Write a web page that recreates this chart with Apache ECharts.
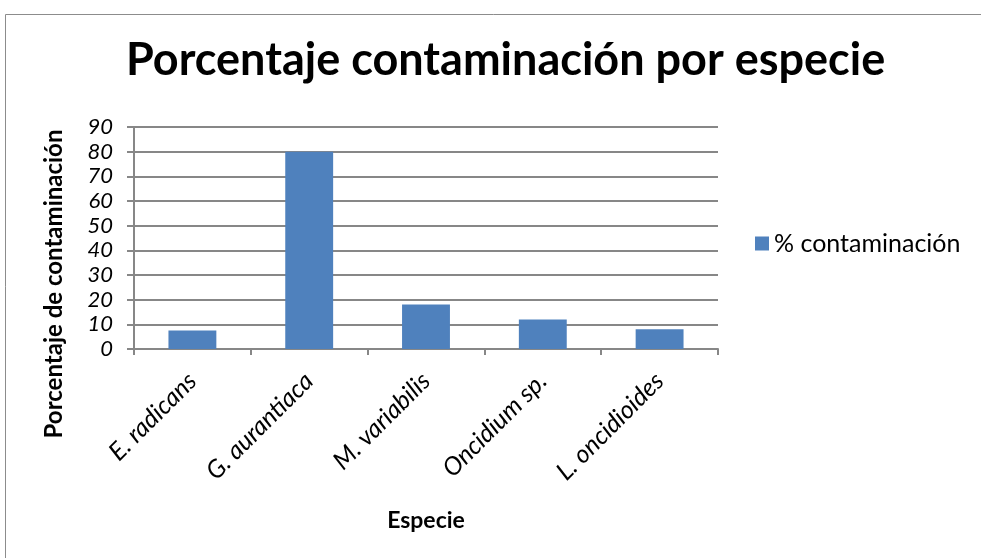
<!DOCTYPE html>
<html>
<head>
<meta charset="utf-8">
<script src="https://cdn.jsdelivr.net/npm/echarts@6/dist/echarts.min.js"></script>
<style>
  html, body { margin: 0; padding: 0; background: #fff; }
  #chart { width: 981px; height: 558px; }
</style>
</head>
<body>
<div id="chart"></div>
<script>
// datos
const especies = ['E. radicans', 'G. aurantiaca', 'M. variabilis', 'Oncidium sp.', 'L. oncidioides'];
const contaminacion = [7.5, 80, 18, 12, 8];
const serieNombre = '% contaminación';
const tituloY = 'Porcentaje de contaminación';

const chart = echarts.init(document.getElementById('chart'));
const font = 'Lato, "Open Sans", sans-serif';
const gridColor = '#878787';

chart.setOption({
  backgroundColor: '#fff',
  animation: false,
  graphic: [
    // marco exterior
    {
      type: 'rect',
      shape: { x: 5.5, y: 14.5, width: 1000, height: 600 },
      style: { fill: 'none', stroke: '#8c8c8c', lineWidth: 1 }
    },
    // título del eje Y (centrado como en el original)
    {
      type: 'text',
      x: 54,
      y: 284,
      rotation: Math.PI / 2,
      style: {
        text: tituloY,
        font: 'bold 24px ' + font,
        fill: '#000',
        align: 'center',
        verticalAlign: 'middle'
      }
    }
  ],
  title: {
    text: 'Porcentaje contaminación por especie',
    left: 121,
    top: 33,
    textStyle: { fontFamily: font, fontWeight: 'bold', fontSize: 45, color: '#000' }
  },
  legend: {
    data: [serieNombre],
    left: 750,
    top: 226,
    itemWidth: 14,
    itemHeight: 14,
    icon: 'rect',
    itemGap: 8,
    textStyle: { fontFamily: font, fontSize: 25, color: '#000' }
  },
  grid: { left: 134, right: 263, top: 127, bottom: 209 },
  xAxis: {
    type: 'category',
    data: especies,
    name: 'Especie',
    nameLocation: 'middle',
    nameGap: 160,
    nameTextStyle: { fontFamily: font, fontWeight: 'bold', fontSize: 23, color: '#000' },
    axisLine: { lineStyle: { color: gridColor, width: 2 } },
    axisTick: { show: true, alignWithLabel: false, length: 6, lineStyle: { color: gridColor, width: 2 } },
    axisLabel: {
      rotate: 45,
      margin: 28,
      interval: 0,
      fontFamily: font,
      fontStyle: 'italic',
      fontSize: 25,
      color: '#000'
    }
  },
  yAxis: {
    type: 'value',
    min: 0,
    max: 90,
    interval: 10,
    axisLine: { show: true, lineStyle: { color: gridColor, width: 2 } },
    axisTick: { show: true, length: 7, lineStyle: { color: gridColor, width: 2 } },
    splitLine: { lineStyle: { color: gridColor, width: 2 } },
    axisLabel: {
      margin: 21,
      fontFamily: font,
      fontStyle: 'italic',
      fontSize: 22,
      color: '#000'
    }
  },
  series: [{
    name: serieNombre,
    type: 'bar',
    data: contaminacion,
    barWidth: '41%',
    itemStyle: { color: '#4f81bd' }
  }]
});
</script>
</body>
</html>
